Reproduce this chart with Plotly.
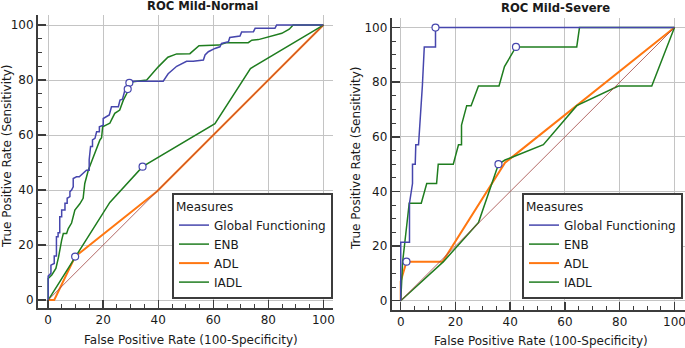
import plotly.graph_objects as go

# ---------------- data: ROC Mild-Normal ----------------
mn_gf_fpr = [0, 0, 1.0, 1.0, 2.2, 2.2, 3.0, 3.0, 3.6, 3.6, 4.2, 4.2, 4.9, 4.9, 6.1, 6.1, 6.9, 6.9, 7.9, 7.9,
             8.5, 9.1, 9.1, 10.3, 11.3, 12.5, 13.9, 14.9, 14.9, 15.4, 16.1, 16.1, 17.0, 17.6, 18.6, 18.6, 20.0, 20.0,
             21.2, 22.2, 23.0, 25.5, 26.1, 27.0, 27.9, 28.9, 29.5, 31.0, 41.8, 43.6, 46.7, 49.1, 50.3, 52.7, 56.4,
             57.0, 58.2, 60.6, 62.4, 63.0, 65.5, 66.0, 69.7, 70.3, 74.6, 75.2, 82.4, 83.0, 100]
mn_gf_tpr = [0, 8.7, 9.7, 12.7, 13.3, 16.0, 16.0, 23.0, 23.0, 24.5, 24.5, 30.3, 30.3, 32.7, 32.7, 35.2, 35.2, 37.0,
             37.6, 39.4, 40.0, 41.2, 44.2, 44.8, 44.8, 46.0, 47.2, 47.2, 51.0, 55.8, 55.8, 58.2, 58.8, 61.2, 61.2,
             63.0, 63.6, 66.0, 66.7, 67.3, 70.3, 70.3, 72.7, 73.0, 76.4, 76.7, 79.0, 79.6, 79.6, 82.3, 85.0, 86.2,
             86.8, 86.8, 87.3, 89.1, 90.3, 91.5, 92.1, 93.3, 93.9, 95.5, 96.0, 97.5, 97.6, 98.8, 98.8, 100, 100]
mn_enb_fpr = [0, 0, 1.3, 2.8, 3.8, 4.5, 4.9, 5.5, 6.7, 7.3, 8.5, 9.7, 11.5, 12.7, 13.3, 14.6, 16.4, 17.6, 18.8,
              19.4, 19.8, 21.0, 22.4, 23.0, 24.2, 26.0, 27.3, 28.5, 29.7, 30.9, 35.8, 40.0, 43.5, 46.7, 51.5, 54.8,
              62.0, 64.9, 72.7, 74.0, 76.4, 84.9, 87.6, 89.0, 100]
mn_enb_tpr = [0, 7.8, 9.1, 11.5, 15.8, 20.0, 21.8, 24.2, 24.2, 26.0, 28.0, 32.7, 35.0, 37.0, 42.4, 47.3, 52.0,
              54.5, 58.2, 59.0, 63.0, 63.6, 64.3, 65.5, 67.9, 69.1, 72.7, 75.0, 78.2, 79.4, 80.0, 84.8, 88.3, 89.5,
              89.6, 92.5, 92.7, 93.6, 93.6, 94.5, 94.7, 97.0, 98.5, 100, 100]
mn_adl_fpr = [0, 2.2, 9.8, 39.5, 100]
mn_adl_tpr = [0, 0, 15.8, 39.5, 100]
mn_iadl_fpr = [0, 22.4, 34.3, 60.6, 73.5, 100]
mn_iadl_tpr = [0, 35.5, 48.5, 64.1, 84.2, 100]
mn_cut_fpr = [29.5, 28.9, 9.8, 34.3]
mn_cut_tpr = [79.0, 76.7, 15.8, 48.5]

# ---------------- data: ROC Mild-Severe ----------------
ms_gf_fpr = [0, 0, 3.2, 3.2, 4.3, 4.3, 5.3, 5.5, 6.5, 7.0, 7.5, 7.9, 8.6, 12.7, 12.7, 100]
ms_gf_tpr = [0, 21.4, 21.4, 35.7, 42.9, 50.0, 50.0, 57.1, 57.1, 64.3, 71.4, 78.6, 92.9, 92.9, 100, 100]
ms_enb_fpr = [0, 0.7, 1.5, 3.1, 7.5, 9.5, 13.1, 13.7, 19.2, 21.1, 22.2, 22.2, 24.1, 25.7, 28.4, 35.9, 37.9,
              42.1, 64.3, 65.3, 100]
ms_enb_tpr = [0, 14.3, 21.4, 35.7, 35.7, 42.9, 42.9, 50.0, 50.0, 57.1, 57.1, 64.3, 71.4, 71.4, 78.6, 78.6, 85.7,
              92.9, 92.9, 100, 100]
ms_adl_fpr = [0, 0, 2.1, 15.3, 38.1, 100]
ms_adl_tpr = [0, 7.1, 14.3, 14.3, 50.5, 100]
ms_iadl_fpr = [0, 15.6, 28.4, 35.7, 38.1, 52.1, 64.3, 79.5, 91.7, 100]
ms_iadl_tpr = [0, 14.3, 28.6, 50.0, 51.5, 57.1, 71.4, 78.6, 78.6, 100]
ms_cut_fpr = [12.7, 42.1, 2.1, 35.7]
ms_cut_tpr = [100, 92.9, 14.3, 50.0]

diag = [0, 100]
measures = ["Global Functioning", "ENB", "ADL", "IADL"]
titles = ["ROC Mild-Normal", "ROC Mild-Severe"]
x_title = "False Positive Rate (100-Specificity)"
y_title = "True Positive Rate (Sensitivity)"
legend_title = "Measures"

C_GF = "#4646ad"
C_GREEN = "#1f7d1f"
C_ADL = "#ff7711"
C_DIAG = "#a0433f"
FONT = "DejaVu Sans"
W, H = 700, 348       # figure slightly wider than the 685 px window; the window crops the right edge

fig = go.Figure()

panels = [
    dict(xa="x", ya="y", leg="legend",
         gf=(mn_gf_fpr, mn_gf_tpr), enb=(mn_enb_fpr, mn_enb_tpr),
         adl=(mn_adl_fpr, mn_adl_tpr), iadl=(mn_iadl_fpr, mn_iadl_tpr),
         cut=(mn_cut_fpr, mn_cut_tpr)),
    dict(xa="x2", ya="y2", leg="legend2",
         gf=(ms_gf_fpr, ms_gf_tpr), enb=(ms_enb_fpr, ms_enb_tpr),
         adl=(ms_adl_fpr, ms_adl_tpr), iadl=(ms_iadl_fpr, ms_iadl_tpr),
         cut=(ms_cut_fpr, ms_cut_tpr)),
]

for p in panels:
    common = dict(xaxis=p["xa"], yaxis=p["ya"], legend=p["leg"], mode="lines", hoverinfo="skip")
    fig.add_trace(go.Scatter(x=p["adl"][0], y=p["adl"][1], name=measures[2], legendrank=3,
                             line=dict(color=C_ADL, width=2), **common))
    fig.add_trace(go.Scatter(x=p["iadl"][0], y=p["iadl"][1], name=measures[3], legendrank=4,
                             line=dict(color=C_GREEN, width=1.5), **common))
    fig.add_trace(go.Scatter(x=p["enb"][0], y=p["enb"][1], name=measures[1], legendrank=2,
                             line=dict(color=C_GREEN, width=1.5), **common))
    fig.add_trace(go.Scatter(x=p["gf"][0], y=p["gf"][1], name=measures[0], legendrank=1,
                             line=dict(color=C_GF, width=1.5), **common))
    fig.add_trace(go.Scatter(x=diag, y=diag, showlegend=False,
                             line=dict(color=C_DIAG, width=0.8), **common))
    fig.add_trace(go.Scatter(x=p["cut"][0], y=p["cut"][1], mode="markers", showlegend=False,
                             xaxis=p["xa"], yaxis=p["ya"], hoverinfo="skip",
                             marker=dict(size=7, color="white", line=dict(color=C_GF, width=1.2))))


def axis(domain, rng, anchor):
    return dict(domain=domain, range=rng, anchor=anchor, tick0=0, dtick=20, automargin=False,
                showgrid=True, gridcolor="#c4c4c4", gridwidth=1, zeroline=False,
                showline=True, linecolor="#3c3c3c", linewidth=2,
                ticks="inside", ticklen=8, tickwidth=1.5, tickcolor="#3c3c3c",
                ticklabeloverflow="allow",
                minor=dict(tick0=0, dtick=5, ticks="inside", ticklen=4, tickwidth=1,
                           tickcolor="#3c3c3c", showgrid=False),
                tickfont=dict(size=12, color="#1a1a1a", family=FONT))


def px_x(px):
    return px / W


def px_y(py):
    return 1 - py / H


legend_common = dict(bgcolor="white", bordercolor="#3c3c3c", borderwidth=2,
                     title=dict(text=legend_title, font=dict(size=12, family=FONT, color="#1a1a1a")),
                     font=dict(size=12, family=FONT, color="#1a1a1a"), tracegroupgap=0,
                     xanchor="right", yanchor="bottom")

fig.update_layout(
    width=W, height=H, margin=dict(l=0, r=0, t=0, b=0, autoexpand=False),
    paper_bgcolor="white", plot_bgcolor="white",
    font=dict(family=FONT, size=12, color="#1a1a1a"),
    xaxis=axis([px_x(38), px_x(333)], [-3.7, 103.5], "y"),
    yaxis=axis([px_y(308), px_y(14.6)], [-2.9, 103.8], "x"),
    xaxis2=axis([px_x(391.7), px_x(692)], [-3.3, 106.4], "y2"),
    yaxis2=axis([px_y(310), px_y(18)], [-3.4, 103.5], "x2"),
    legend=dict(x=px_x(333), y=px_y(299), **legend_common),
    legend2=dict(x=px_x(683), y=px_y(299), **legend_common),
    showlegend=True,
)

ann = []
for txt, cx, cy in [(titles[0], 202.5, 6), (titles[1], 555, 7.5)]:
    ann.append(dict(text="<b>" + txt + "</b>", x=px_x(cx), y=px_y(cy), xref="paper", yref="paper",
                    xanchor="center", yanchor="middle", showarrow=False,
                    font=dict(size=11.6, family=FONT, color="#1a1a1a")))
for cx, cy in [(191, 340), (541, 341)]:
    ann.append(dict(text=x_title, x=px_x(cx), y=px_y(cy), xref="paper", yref="paper",
                    xanchor="center", yanchor="middle", showarrow=False,
                    font=dict(size=12, family=FONT, color="#1a1a1a")))
for cx, cy in [(7, 156), (356, 158)]:
    ann.append(dict(text=y_title, x=px_x(cx), y=px_y(cy), xref="paper", yref="paper",
                    xanchor="center", yanchor="middle", showarrow=False, textangle=-90,
                    font=dict(size=12, family=FONT, color="#1a1a1a")))
fig.update_layout(annotations=ann)

fig.write_html("out.html", config={"displayModeBar": False, "staticPlot": True},
               post_script="document.body.style.margin='0px';document.body.style.overflow='hidden';")
